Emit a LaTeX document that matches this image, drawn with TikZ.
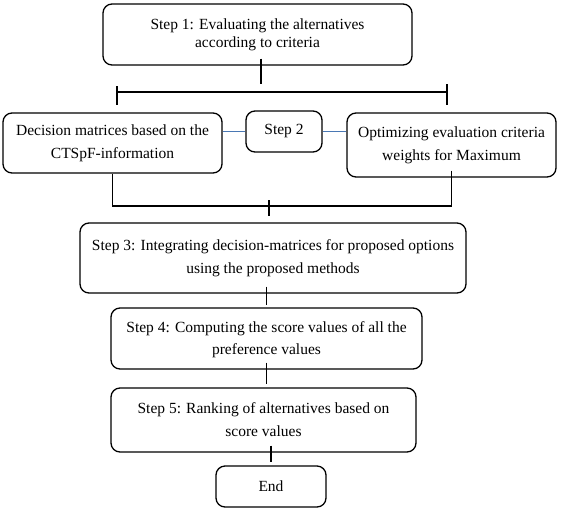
\documentclass[tikz,border=0pt]{standalone}
\usepackage{fontspec}
\setmainfont{Liberation Serif}
\usepackage{tikz}
\usepackage{xcolor}
\usetikzlibrary{calc,positioning}
\definecolor{linkblue}{RGB}{74,120,180}
\tikzset{%
	stepbox/.style = {draw, rectangle, rounded corners=9pt, line width=1.3pt, inner sep=0pt, align=center, font=\fontsize{15.5}{23}\selectfont},
	conn/.style    = {line width=1.3pt},
	link/.style    = {line width=1.3pt, linkblue},
}

\begin{document}
\begin{tikzpicture}[x=1pt,y=-1pt]
	\useasboundingbox (0,0) rectangle (562,512);
	
	\node[stepbox, minimum width=309pt, minimum height=61pt, font=\fontsize{15.5}{18}\selectfont] (s1) at (257.5,34.5) {Step 1: Evaluating the alternatives\\according to criteria};
	\node[stepbox, minimum width=219pt, minimum height=60pt] (dm) at (112.5,143) {Decision matrices based on the\\CTSpF-information};
	\node[stepbox, minimum width=76pt, minimum height=41pt] (s2) at (284,131.5) {Step 2};
	\node[stepbox, minimum width=209pt, minimum height=64pt] (opt) at (451.5,145) {Optimizing evaluation criteria\\weights for Maximum};
	\node[stepbox, minimum width=386pt, minimum height=70pt] (s3) at (273,258) {Step 3: Integrating decision-matrices for proposed options\\using the proposed methods};
	\node[stepbox, minimum width=311pt, minimum height=61pt] (s4) at (266.5,338.5) {\raisebox{-5pt}{\begin{tabular}{@{}c@{}}Step 4: Computing the score values of all the\\[-1pt]preference values\end{tabular}}};
	\node[stepbox, minimum width=305pt, minimum height=64pt] (s5) at (263.5,420) {Step 5: Ranking of alternatives based on\\score values};
	\node[stepbox, minimum width=110pt, minimum height=41pt] (en) at (271,486.5) {End};
	
	\coordinate (stem) at (261,84);
	\coordinate (barL) at (117,92);
	\coordinate (barR) at (447,92);
	\coordinate (join) at (269,206);
	
	\draw[conn, shorten <=-7pt] (s1.south -| stem) -- (stem);
	\draw[conn] (barL) -- (barR);
	\draw[conn] ([yshift=6pt]barL) -- ([yshift=-13pt]barL);
	\draw[conn] ([yshift=8pt]barR) -- ([yshift=-13pt]barR);
	
	\draw[link] (dm.east |- s2.west) -- (s2.west);
	\draw[link] (s2.east) -- (opt.west |- s2.east);
	
	\draw[conn] (dm.south) |- (join);
	\draw[conn, shorten <=-7pt] (opt.south) |- (join);
	\draw[conn, shorten >=6pt] ([yshift=6pt]join) -- (s3.north -| join);
	
	\draw[conn, shorten <=-7pt, shorten >=2pt] (s4.north |- s3.south) -- (s4.north);
	\draw[conn, shorten <=-7pt, shorten >=3pt] (s4.south) -- (s4.south |- s5.north);
	\draw[conn, shorten <=-7pt, shorten >=3pt] (en.north |- s5.south) -- (en.north);
\end{tikzpicture}
\end{document}
